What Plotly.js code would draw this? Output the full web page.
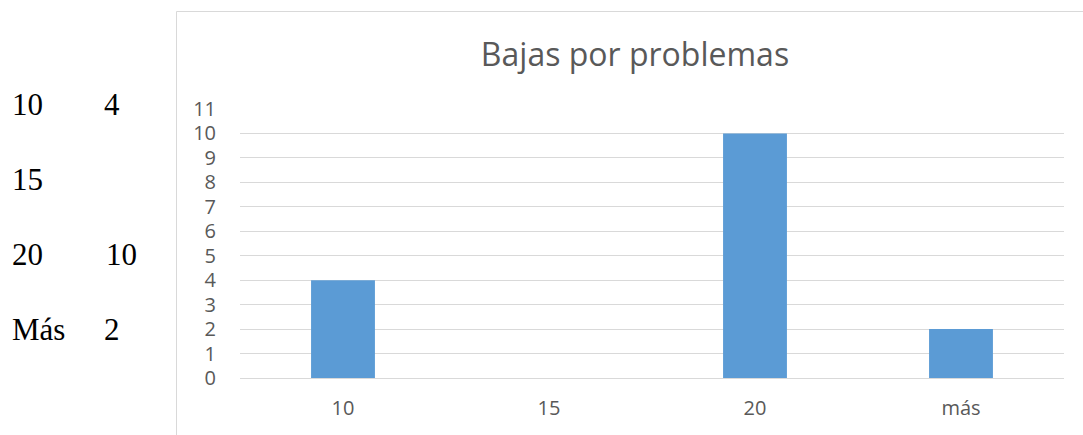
<!DOCTYPE html>
<html>
<head>
<meta charset="utf-8">
<script src="https://cdn.plot.ly/plotly-3.0.1.min.js"></script>
<style>
html,body{margin:0;padding:0;background:#fff;}
#wrap{position:relative;width:1083px;height:435px;overflow:hidden;}
#chart{position:absolute;left:0;top:0;width:1083px;height:435px;}
.cell{position:absolute;font-family:"Liberation Serif","Times New Roman",serif;font-size:31px;color:#000;line-height:1;}
</style>
</head>
<body>
<div id="wrap"><div id="chart"></div></div>
<script>
const categories = ["10", "15", "20", "más"];
const counts = [4, 0, 10, 2];
const tableLabels = ["10", "15", "20", "Más"];
const tableValues = ["4", "", "10", "2"];
const yTicks = [0,1,2,3,4,5,6,7,8,9,10,11];

const wrap = document.getElementById('wrap');
const rowTops = [89, 164, 239, 314];
const valLeft = [104, 104, 106, 104];
tableLabels.forEach((t, i) => {
  const a = document.createElement('div');
  a.className = 'cell'; a.textContent = t;
  a.style.left = '12px'; a.style.top = rowTops[i] + 'px';
  wrap.appendChild(a);
  if (tableValues[i] !== '') {
    const b = document.createElement('div');
    b.className = 'cell'; b.textContent = tableValues[i];
    b.style.left = valLeft[i] + 'px'; b.style.top = rowTops[i] + 'px';
    wrap.appendChild(b);
  }
});

const L = 240, R = 1064, T = 109, B = 378;
const pw = R - L, ph = B - T;
const px = v => (v - L) / pw;
const py = v => (B - v) / ph;

const trace = {
  type: 'bar',
  x: categories,
  y: counts,
  marker: {color: '#5b9bd5'},
  width: 0.31,
  hoverinfo: 'x+y'
};

const tickFont = {family: '"Open Sans", sans-serif', size: 20, color: '#595959'};

const layout = {
  width: 1083, height: 435,
  margin: {l: L, r: 1083 - R, t: T, b: 435 - B, pad: 0},
  paper_bgcolor: 'rgba(0,0,0,0)',
  plot_bgcolor: 'rgba(0,0,0,0)',
  showlegend: false,
  font: {family: '"Open Sans", sans-serif', color: '#595959', size: 20},
  title: {
    text: 'Bajas por problemas',
    font: {family: '"Open Sans", sans-serif', size: 32, color: '#595959'},
    xref: 'container', x: 635 / 1083, xanchor: 'center',
    yref: 'container', y: 1 - 55 / 435, yanchor: 'middle'
  },
  xaxis: {
    type: 'category', automargin: false,
    showgrid: false, zeroline: false, showline: false,
    ticks: '', tickfont: tickFont,
    ticklabelstandoff: 16
  },
  yaxis: {
    range: [0, 11], tickmode: 'array', tickvals: yTicks, automargin: false,
    showgrid: true, gridcolor: '#d9d9d9', gridwidth: 1,
    zeroline: true, zerolinecolor: '#d9d9d9', zerolinewidth: 1,
    showline: false, ticks: '',
    tickfont: tickFont,
    ticklabelstandoff: 23
  },
  shapes: [
    {type: 'line', xref: 'paper', yref: 'paper', x0: px(176.5), x1: px(176.5), y0: py(11.5), y1: py(440), line: {color: '#d9d9d9', width: 1}},
    {type: 'line', xref: 'paper', yref: 'paper', x0: px(176.5), x1: px(1090), y0: py(11.5), y1: py(11.5), line: {color: '#d9d9d9', width: 1}}
  ]
};

Plotly.newPlot('chart', [trace], layout, {displayModeBar: false, staticPlot: true});
</script>
</body>
</html>
